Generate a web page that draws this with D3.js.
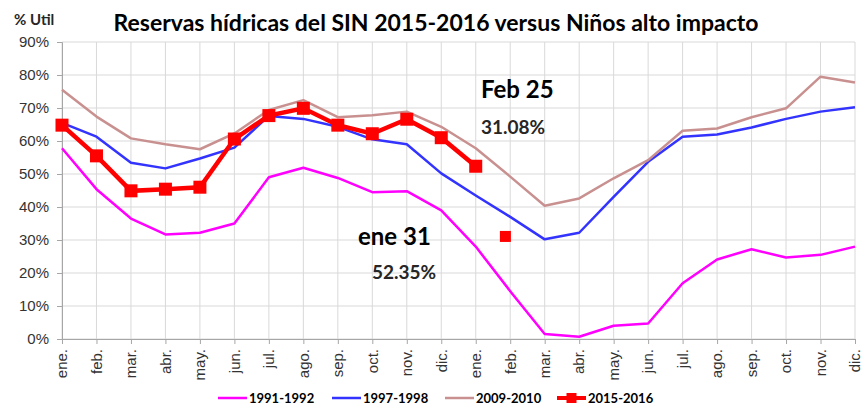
<script src="https://d3js.org/d3.v7.min.js"></script>

<style>
body{
  margin:0;
  background:#fff;
}
svg{
  font-family: Lato, "Open Sans", sans-serif;
}
.grid line{
  stroke:#d9d9d9;
  stroke-width:1;
}
.axis path, .axis line{
  stroke:#a6a6a6;
}
.axis text{
  fill:#333;
  font-size:15px;
}
.legend text{
  font-size:13px;
  font-weight:bold;
  fill:#000;
}
</style>

<div id="chart"></div>

<script>
// months on the x axis, two years
const months = ["ene.","feb.","mar.","abr.","may.","jun.","jul.","ago.","sep.","oct.","nov.","dic.",
                "ene.","feb.","mar.","abr.","may.","jun.","jul.","ago.","sep.","oct.","nov.","dic."];
const yTicks = [0,10,20,30,40,50,60,70,80,90];

// % util per month
const s1991 = [57.8,45.4,36.5,31.7,32.2,35,49,51.9,48.8,44.5,44.8,39,28,14.5,1.5,0.7,4,4.7,16.9,24.1,27.2,24.7,25.5,28];
const s1997 = [65.5,61.3,53.4,51.7,54.7,58,67.6,66.7,64.3,60.5,59,50.2,43.5,37,30.2,32.2,43.1,53.7,61.3,62,64.1,66.7,68.9,70.2];
const s2009 = [75.5,67.4,60.8,59,57.5,62.3,69.4,72.4,67.2,67.8,68.9,64.3,57.8,49.2,40.4,42.6,48.7,54.2,63.1,63.8,67.2,69.9,79.5,77.7];
const s2015 = [64.8,55.5,44.9,45.4,46,60.6,67.7,69.9,64.8,62.2,66.6,61,52.35];
// feb 25 point (month index 12 + 25/29)
const extraPoint = {i: 12.86, v: 31.08};

const seriesNames = ["1991-1992","1997-1998","2009-2010","2015-2016"];
const seriesColors = ["#ff00ff","#3333ff","#c99090","#ff0000"];

const width = 862, height = 406;
const svg = d3.select("#chart").append("svg")
  .attr("width", width)
  .attr("height", height);

const x = d3.scaleLinear().domain([0, months.length - 1]).range([62, 855]);
const y = d3.scaleLinear().domain([0, 90]).range([339, 42]);

// gridlines
const grid = svg.append("g").attr("class","grid");
grid.selectAll(".h").data(yTicks).enter().append("line")
  .attr("x1", x(0)).attr("x2", x(23))
  .attr("y1", d => y(d)).attr("y2", d => y(d));
grid.selectAll(".v").data(d3.range(months.length)).enter().append("line")
  .attr("x1", d => x(d)).attr("x2", d => x(d))
  .attr("y1", y(0)).attr("y2", y(90));

// axes
svg.append("g")
  .attr("class","axis")
  .attr("transform","translate(" + x(0) + ",0)")
  .call(d3.axisLeft(y).tickValues(yTicks).tickSize(5).tickFormat(d => d + "%"))
  .selectAll("text").attr("x", -13);

svg.append("g")
  .attr("class","axis")
  .attr("transform","translate(0," + y(0) + ")")
  .call(d3.axisBottom(x).tickValues(d3.range(months.length)).tickSize(5).tickFormat(i => months[i]))
  .selectAll("text")
    .attr("transform","rotate(-90)")
    .attr("x",-10)
    .attr("y",0)
    .attr("dy","0.32em")
    .style("text-anchor","end");

// lines
const line = d3.line()
  .x((d,i) => x(i))
  .y(d => y(d));

[s1991, s1997, s2009].forEach(function(s, k){
  svg.append("path")
    .datum(s)
    .attr("fill","none")
    .attr("stroke", seriesColors[k])
    .attr("stroke-width", 2.5)
    .attr("stroke-linejoin","round")
    .attr("d", line);
});

svg.append("path")
  .datum(s2015)
  .attr("fill","none")
  .attr("stroke", seriesColors[3])
  .attr("stroke-width", 4.5)
  .attr("d", line);

svg.selectAll(".mk").data(s2015).enter().append("rect")
  .attr("x", (d,i) => x(i) - 6.5)
  .attr("y", d => y(d) - 6.5)
  .attr("width", 13).attr("height", 13)
  .attr("fill", seriesColors[3]);

svg.append("rect")
  .attr("x", x(extraPoint.i) - 5.5)
  .attr("y", y(extraPoint.v) - 5.5)
  .attr("width", 11).attr("height", 11)
  .attr("fill", seriesColors[3]);

// title and labels
svg.append("text")
  .attr("x", 436).attr("y", 31)
  .attr("text-anchor","middle")
  .attr("font-size", 23)
  .attr("font-weight","bold")
  .text("Reservas hídricas del SIN 2015-2016 versus Niños alto impacto");

svg.append("text")
  .attr("x", 14).attr("y", 25)
  .attr("font-size", 15)
  .attr("font-weight","bold")
  .attr("fill","#262626")
  .text("% Util");

svg.append("text").attr("x", 481).attr("y", 98)
  .attr("font-size", 24).attr("font-weight","bold").text("Feb 25");
svg.append("text").attr("x", 481).attr("y", 134)
  .attr("font-size", 19).attr("font-weight","bold").attr("fill","#262626").text("31.08%");
svg.append("text").attr("x", 358).attr("y", 245)
  .attr("font-size", 24).attr("font-weight","bold").text("ene 31");
svg.append("text").attr("x", 372).attr("y", 279)
  .attr("font-size", 19).attr("font-weight","bold").attr("fill","#262626").text("52.35%");

// legend
const legendX = [218, 332, 445, 557];
const legend = svg.append("g").attr("class","legend");
seriesNames.forEach(function(name, k){
  const g = legend.append("g").attr("transform","translate(" + legendX[k] + ",398)");
  g.append("line")
    .attr("x1",0).attr("x2",29)
    .attr("stroke", seriesColors[k])
    .attr("stroke-width", k === 3 ? 4 : 2.5);
  if (k === 3) {
    g.append("rect").attr("x",9.5).attr("y",-5).attr("width",10).attr("height",10).attr("fill",seriesColors[k]);
  }
  g.append("text").attr("x",31).attr("y",0).attr("dy","0.35em").text(name);
});
</script>
